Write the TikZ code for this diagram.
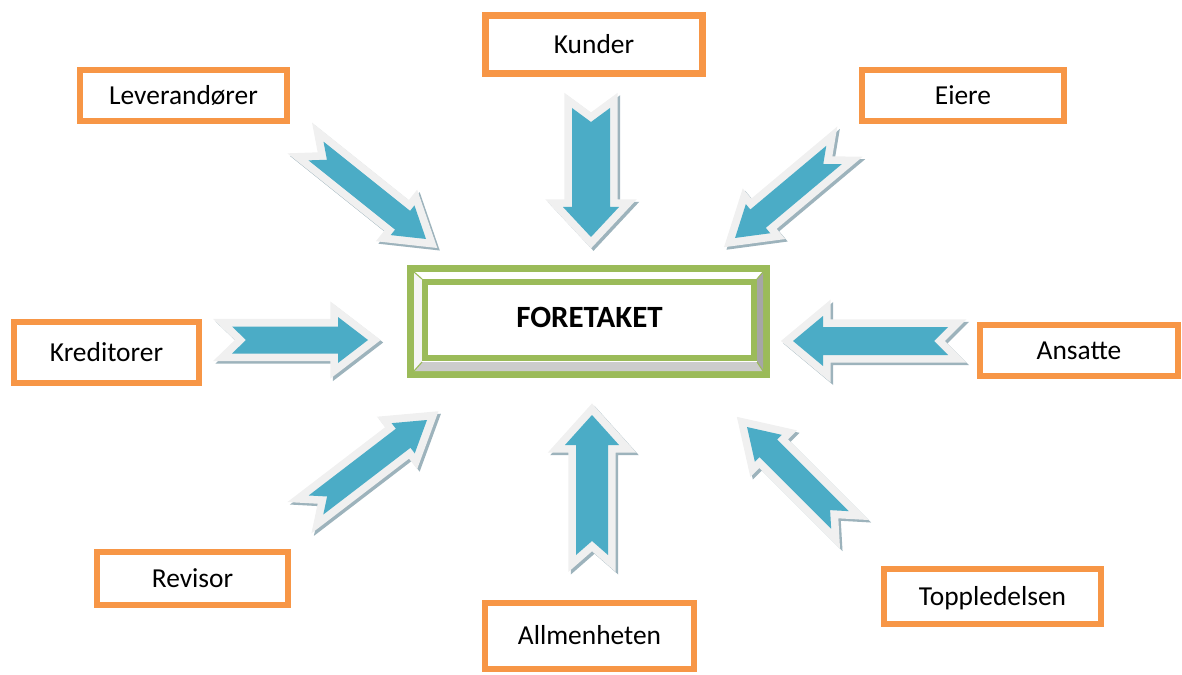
\documentclass[tikz,border=0pt]{standalone}
\usepackage{fontspec}
\setmainfont{Carlito}
\usepackage{tikz}
\usetikzlibrary{positioning,calc}

\definecolor{partyorange}{HTML}{F79646}
\definecolor{coregreen}{HTML}{9BBB59}
\definecolor{arrowblue}{HTML}{4BACC6}
\definecolor{arrowrim}{HTML}{F0F0F0}
\definecolor{arrowshade}{HTML}{9DB3BC}

% block arrow: tail x, tail y, tip x, tip y, half body, half head
\newcommand\fatarrow[6]{%
  \pgfmathsetmacro\arrang{atan2(-((#4)-(#2)),(#3)-(#1))}%
  \pgfmathsetmacro\arrlen{veclen((#3)-(#1),(#4)-(#2))}%
  \pgfmathsetmacro\arrbase{\arrlen-30}%
  \begin{scope}[shift={(#1+2.5,#2+2.5)}, rotate=\arrang]
    \draw[arrshade] (0,#5) -- (\arrbase,#5) -- (\arrbase,#6) -- (\arrlen,0)
      -- (\arrbase,-#6) -- (\arrbase,-#5) -- (0,-#5) -- (14,0) -- cycle;
  \end{scope}
  \begin{scope}[shift={(#1,#2)}, rotate=\arrang]
    \fill[arrbody] (0,#5) -- (\arrbase,#5) -- (\arrbase,#6) -- (\arrlen,0)
      -- (\arrbase,-#6) -- (\arrbase,-#5) -- (0,-#5) -- (14,0) -- cycle;
  \end{scope}
}

\begin{document}
\begin{tikzpicture}[
    x=0.025cm, y=-0.025cm,
    party/.style={rectangle, draw=partyorange, line width=4.3pt, fill=white,
      inner sep=0pt, text height=12.6pt, text depth=0pt,
      font=\fontsize{19.5}{22}\selectfont},
    arrbody/.style={fill=arrowblue, preaction={draw=arrowrim, line width=11pt}},
    arrshade/.style={draw=arrowshade, line width=11pt, fill=arrowshade}
]
    \useasboundingbox (0,0) rectangle (1182,675);

    % Arrows
    \fatarrow{316}{151}{426}{239}{12}{19}
    \fatarrow{591}{108}{591}{237}{19}{28}
    \fatarrow{834}{155}{735}{238}{12}{19}
    \fatarrow{232}{340}{368}{340}{13.5}{23}
    \fatarrow{948}{341}{793}{341}{14}{25}
    \fatarrow{316}{505}{427}{420}{12}{19}
    \fatarrow{592}{555}{592}{415}{16}{27}
    \fatarrow{840}{520}{747}{427}{12.5}{19}

    % Foretaket
    \node[rectangle, draw=coregreen, line width=5pt, minimum width=356*0.025cm,
      minimum height=106*0.025cm] (core) at (588.5,321.5) {};
    \fill[gray!70] (763,272) -- (763,371) -- (757,362) -- (757,279) -- cycle;
    \fill[gray!40] (414,371) -- (763,371) -- (757,362) -- (422,362) -- cycle;
    \fill[gray!8] (414,272) -- (414,371) -- (422,362) -- (422,279) -- cycle;
    \draw[coregreen, line width=0.8pt] (414,272) -- (422,279) (763,272) -- (757,279)
      (414,371) -- (422,362) (763,371) -- (757,362);
    \node[rectangle, draw=coregreen, line width=4.5pt, fill=white,
      minimum width=329*0.025cm, minimum height=76*0.025cm,
      text height=14.2pt, text depth=4pt,
      font=\fontsize{22}{26}\selectfont\bfseries] (inner) at (589.5,320) {FORETAKET};

    % Parties
    \node[party, minimum width=207*0.025cm, minimum height=51*0.025cm] (lev) at (183.5,95.5) {Leverandører};
    \node[party, minimum width=217*0.025cm, minimum height=58*0.025cm] (kunder) at (594,44.5) {Kunder};
    \node[party, minimum width=202*0.025cm, minimum height=51*0.025cm] (eiere) at (963,95.5) {Eiere};
    \node[party, minimum width=185*0.025cm, minimum height=61*0.025cm] (kred) at (106.5,352.5) {Kreditorer};
    \node[party, minimum width=198*0.025cm, minimum height=51*0.025cm] (ansatte) at (1079,350.5) {Ansatte};
    \node[party, minimum width=191*0.025cm, minimum height=53*0.025cm] (revisor) at (192.5,578.5) {Revisor};
    \node[party, minimum width=209*0.025cm, minimum height=66*0.025cm] (allm) at (589.5,636) {Allmenheten};
    \node[party, minimum width=217*0.025cm, minimum height=55*0.025cm] (topp) at (992.5,596.5) {Toppledelsen};
\end{tikzpicture}
\end{document}
